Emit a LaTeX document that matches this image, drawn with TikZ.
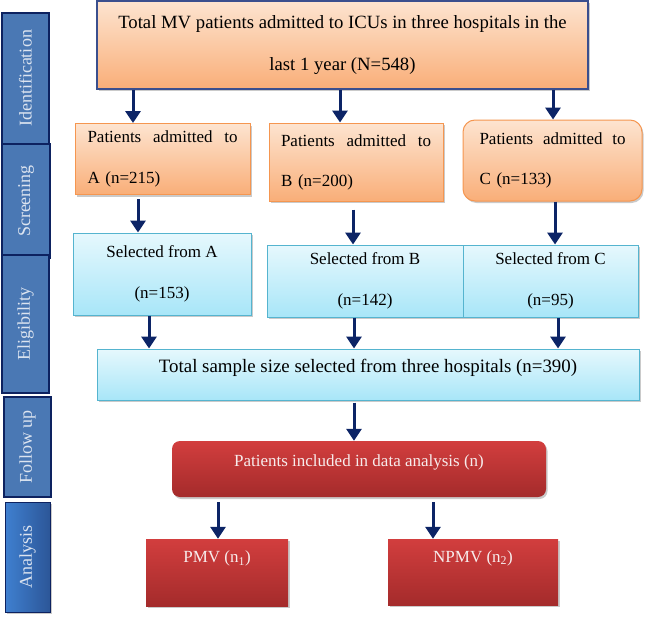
\documentclass[tikz,border=0pt]{standalone}
\usepackage{fontspec}
\setmainfont{Liberation Serif}
\usetikzlibrary{arrows.meta,shadows}
\definecolor{navy}{HTML}{0C2466}
\definecolor{barfill}{HTML}{4A78B4}
\definecolor{barline}{HTML}{0D2260}
\definecolor{bartext}{HTML}{DCE4F0}
\definecolor{orgtop}{HTML}{FDE4D0}
\definecolor{orgbot}{HTML}{F9AE78}
\definecolor{orgline}{HTML}{F59650}
\definecolor{cyantop}{HTML}{E6F8FD}
\definecolor{cyanbot}{HTML}{A8E6F8}
\definecolor{cyanline}{HTML}{55B4CF}
\definecolor{redtop}{HTML}{D23E3E}
\definecolor{redbot}{HTML}{A42B2B}
\definecolor{redtext}{HTML}{F7ECEC}
\definecolor{topline}{HTML}{3A4F8E}
\definecolor{anleft}{HTML}{3F80D0}
\definecolor{anright}{HTML}{2C5698}
\begin{document}
\begin{tikzpicture}[x=1pt,y=-1pt,
  txt/.style={font=\fontsize{17}{20}\selectfont},
  shadowed/.style={drop shadow={shadow xshift=1.5pt,shadow yshift=-2pt,opacity=0.35,fill=black!60}},
  bar/.style={draw=barline,line width=2.4pt,fill=barfill,rotate=90,inner sep=0pt,text=bartext,font=\fontsize{18}{20}\selectfont},
  orgbox/.style={shadowed,draw=orgline,line width=1pt,top color=orgtop,bottom color=orgbot,inner sep=0pt,txt},
  cyanbox/.style={shadowed,draw=cyanline,line width=1pt,top color=cyantop,bottom color=cyanbot,inner sep=0pt,txt},
  redbox/.style={shadowed,top color=redtop,bottom color=redbot,inner sep=0pt,text=redtext,txt},
  arr/.style={draw=navy,line width=3pt,-{Triangle[width=15pt,length=12pt]}}
]
\useasboundingbox (0,0) rectangle (646,621);

% side bars
\node[bar,minimum width=131pt,minimum height=47pt] (ident) at (25.5,78.5) {Identification};
\node[bar,minimum width=114pt,minimum height=48pt] (screen) at (26,201) {Screening};
\node[bar,minimum width=138pt,minimum height=47pt] (elig) at (25.5,324) {Eligibility};
\node[bar,minimum width=100pt,minimum height=47pt] (follow) at (27.5,447) {Follow up};
\node[shadowed,draw=barline,line width=1pt,left color=anleft,right color=anright,rotate=90,inner sep=0pt,text=bartext,font=\fontsize{18}{20}\selectfont,minimum width=110pt,minimum height=45pt] (analysis) at (27.5,557) {Analysis};

% top box
\node[shadowed,draw=topline,line width=1.2pt,top color=orgtop,bottom color=orgbot,inner sep=0pt,
  font=\fontsize{18.7}{42}\selectfont,align=center,minimum width=491pt,minimum height=88pt] (top) at (342.5,45)
  {Total MV patients admitted to ICUs in three hospitals in the\\ last 1 year (N=548)};

% hospitals
\node[orgbox,minimum width=175pt,minimum height=71pt,font=\fontsize{17}{41}\selectfont,text width=150pt,align=left] (A) at (162.5,159)
  {\makebox[150pt]{Patients\hfill admitted\hfill to}\\A (n=215)};
\node[orgbox,minimum width=174pt,minimum height=78pt,font=\fontsize{17}{40}\selectfont,text width=150pt,align=left] (B) at (356,162)
  {\makebox[150pt]{Patients\hfill admitted\hfill to}\\B (n=200)};
\node[orgbox,rounded corners=12pt,minimum width=179pt,minimum height=81pt,font=\fontsize{17}{40}\selectfont,text width=146pt,align=left] (C) at (552.5,160.5)
  {\makebox[146pt]{Patients\hfill admitted\hfill to}\\C (n=133)};

% selected
\node[cyanbox,minimum width=178pt,minimum height=82pt,font=\fontsize{17}{41}\selectfont,align=center] (SA) at (162,274)
  {Selected from A\\(n=153)};
\node[cyanbox,minimum width=196pt,minimum height=72pt,font=\fontsize{17}{41}\selectfont,align=center] (SB) at (365,281)
  {Selected from B\\(n=142)};
\node[cyanbox,minimum width=175pt,minimum height=72pt,font=\fontsize{17}{41}\selectfont,align=center] (SC) at (550.5,281)
  {Selected from C\\(n=95)};

% total
\node[cyanbox,font=\fontsize{18.9}{22}\selectfont,minimum width=542pt,minimum height=51pt,text height=13pt,text depth=17pt] (total) at (368,374.5)
  {Total sample size selected from three hospitals (n=390)};

% analysis boxes
\node[redbox,rounded corners=8pt,minimum width=374pt,minimum height=56pt,text height=12pt,text depth=17pt] (incl) at (359,469)
  {Patients included in data analysis (n)};
\node[redbox,minimum width=142pt,minimum height=67pt,text height=12pt,text depth=32pt] (pmv) at (217,572.5)
  {PMV (n\textsubscript{1})};
\node[redbox,minimum width=170pt,minimum height=66pt,text height=12pt,text depth=32pt] (npmv) at (473,572)
  {NPMV (n\textsubscript{2})};

% x positions of arrows
\coordinate (x1) at (133,0);
\coordinate (x2) at (340,0);
\coordinate (x3) at (553,0);
\coordinate (x4) at (138,0);
\coordinate (x5) at (353,0);
\coordinate (x6) at (555,0);
\coordinate (x7) at (149,0);
\coordinate (x8) at (354,0);
\coordinate (x9) at (558,0);
\coordinate (x10) at (218,0);
\coordinate (x11) at (433,0);

\draw[arr] (top.south -| x1) -- (A.north -| x1);
\draw[arr] (top.south -| x2) -- (B.north -| x2);
\draw[arr] (top.south -| x3) -- (C.north -| x3);
\draw[arr] ([yshift=-4pt]A.south -| x4) -- (SA.north -| x4);
\draw[arr] ([yshift=-8pt]B.south -| x5) -- (SB.north -| x5);
\draw[arr] (C.south -| x6) -- (SC.north -| x6);
\draw[arr] (SA.south -| x7) -- (total.north -| x7);
\draw[arr] (SB.south -| x8) -- (total.north -| x8);
\draw[arr] (SC.south -| x9) -- (total.north -| x9);
\draw[arr] ([yshift=-2pt]total.south -| x8) -- (incl.north -| x8);
\draw[arr] ([yshift=-5pt]incl.south -| x10) -- (pmv.north -| x10);
\draw[arr] ([yshift=-5pt]incl.south -| x11) -- (npmv.north -| x11);
\end{tikzpicture}
\end{document}
